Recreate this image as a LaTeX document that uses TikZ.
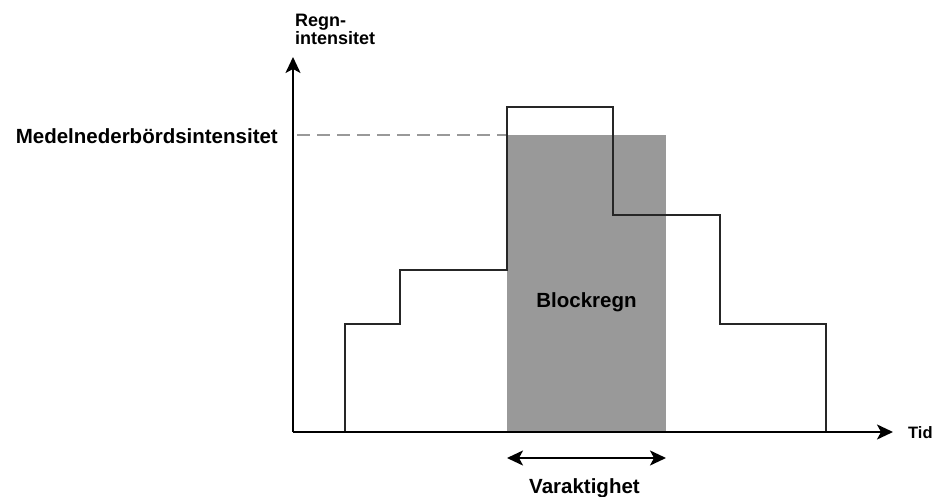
\documentclass[tikz,border=0pt]{standalone}
\usepackage{fontspec}
\setmainfont{Liberation Sans}
\usetikzlibrary{arrows.meta}
\begin{document}
\begin{tikzpicture}[x=1pt,y=-1pt,
  lbl/.style={font=\bfseries\fontsize{20.5}{22}\selectfont, inner sep=0pt},
  small/.style={font=\bfseries\fontsize{18}{18}\selectfont, inner sep=0pt},
  axis/.style={line width=2pt,-{Stealth[length=16pt,width=15pt,inset=4pt]}},
  stepline/.style={line width=1.4pt, draw=black!85}]
\useasboundingbox (0,0) rectangle (937,497);
% gray block
\fill[fill=black!40] (507,135) rectangle (666,432);
% dashed mean line
\coordinate (d0) at (297,135);
\coordinate (d1) at (507,135);
\draw[black!40, line width=2.5pt, dash pattern=on 13pt off 7pt] (d0) -- (d1);
% step hyetograph
\draw[stepline] (345,432) -- (345,324) -- (400,324) -- (400,270) -- (507,270) -- (507,107)
  -- (613,107) -- (613,215) -- (720,215) -- (720,324) -- (826,324) -- (826,432);
% axes
\coordinate (o) at (293,432);
\coordinate (xe) at (893,432);
\coordinate (ye) at (293,57);
\draw[axis] (o) -- (xe);
\draw[axis] (o) -- (ye);
% labels
\node[small, anchor=base west, font=\bfseries\fontsize{16.5}{16.5}\selectfont] (tid) at (908,438) {Tid};
\node[small, anchor=base west] (regn1) at (295,27) {Regn-};
\node[small, anchor=base west] (regn2) at (295,45) {intensitet};
\node[lbl, anchor=base east] (medel) at (278,144) {Medelnederbördsintensitet};
\node[lbl, anchor=base] (block) at (586.5,307) {Blockregn};
% duration arrow
\coordinate (a0) at (507,458);
\coordinate (a1) at (666,458);
\draw[line width=2pt, {Stealth[length=16pt,width=15pt,inset=4pt]}-{Stealth[length=16pt,width=15pt,inset=4pt]}] (a0) -- (a1);
\node[lbl, anchor=base] (var) at (584.5,493) {Varaktighet};
\end{tikzpicture}
\end{document}
